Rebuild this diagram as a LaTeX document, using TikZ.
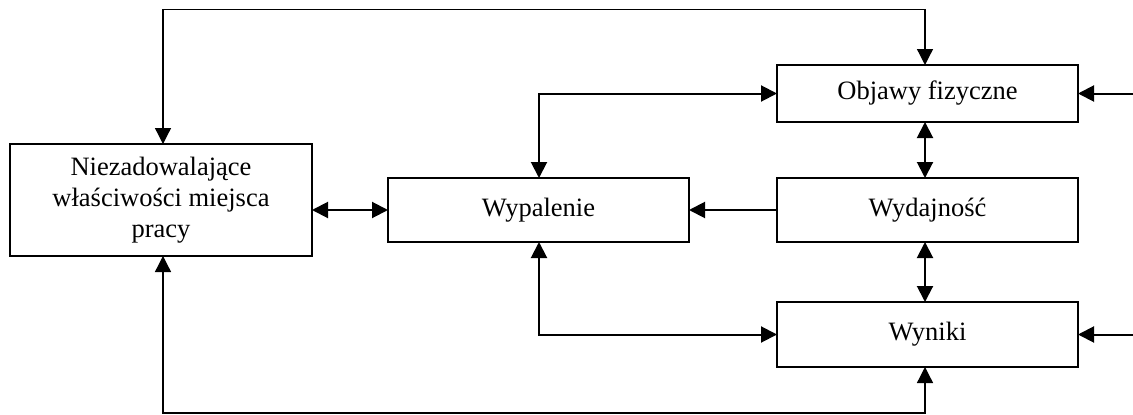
\documentclass[tikz,border=0pt]{standalone}
\usepackage{fontspec}
\setmainfont{Liberation Serif}
\usetikzlibrary{arrows.meta}
\tikzset{
  tip/.tip={Triangle[length=16pt,width=16pt]},
  box/.style={draw, line width=2pt, rectangle, inner sep=0pt, outer sep=0pt,
    font=\fontsize{26.5}{31}\selectfont, align=center, minimum width=301pt},
  link/.style={line width=2pt, -tip},
  both/.style={line width=2pt, tip-tip},
  loop/.style={line width=1.3pt, tip-tip}
}
\begin{document}
\begin{tikzpicture}[x=1pt,y=-1pt]
\useasboundingbox (0,0) rectangle (1133,415);

% boxes
\node[box, minimum width=302pt, minimum height=112pt] (niez) at (161,200)
  {Niezadowalające\\właściwości miejsca\\pracy};
\node[box, minimum height=64pt] (wyp) at (538.5,210) {Wypalenie};
\node[box, minimum height=57pt] (obj) at (927.5,93.5) {Objawy fizyczne};
\node[box, minimum height=64pt] (wyd) at (927.5,210) {Wydajność};
\node[box, minimum height=65pt] (wyn) at (927.5,334.5) {Wyniki};

% corner points of the long loops and the free ends on the right
\coordinate (tl) at (163,9.5);
\coordinate (tr) at (925,9.5);
\coordinate (bl) at (163,413);
\coordinate (br) at (925,413);
\coordinate (ro) at (1133,93.5);
\coordinate (ru) at (1133,334.5);
\coordinate (wx) at (539,0);

% outer loops
\draw[loop] (niez.north -| tl) -- (tl) -- (tr) -- (obj.north -| tr);
\draw[loop] (niez.south -| bl) -- (bl) -- (br) -- (wyn.south -| br);

% links between boxes
\draw[both] (niez.east |- wyp.west) -- (wyp.west);
\draw[both] (wyp.north -| wx) |- (obj.west);
\draw[both] (wyp.south -| wx) |- (wyn.west);
\draw[link] (wyd.west) -- (wyp.east);
\draw[both] (obj.south -| tr) -- (wyd.north -| tr);
\draw[both] (wyd.south -| tr) -- (wyn.north -| tr);

% inputs from the right
\draw[link] (ro) -- (obj.east);
\draw[link] (ru) -- (wyn.east);
\end{tikzpicture}
\end{document}
